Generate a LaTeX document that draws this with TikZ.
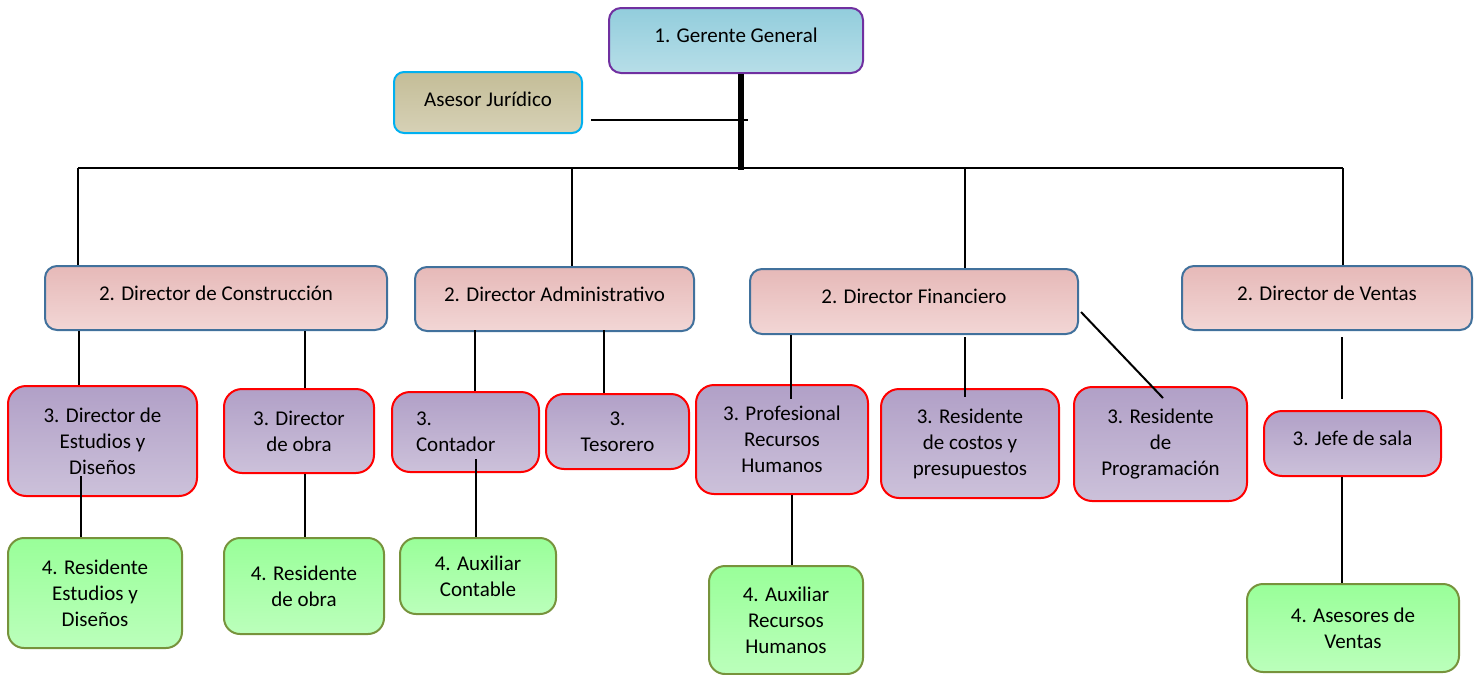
\documentclass[tikz,border=0pt]{standalone}
\usepackage{fontspec}
\setmainfont{Carlito}
\usetikzlibrary{calc}
\definecolor{gerTop}{HTML}{92CDDC}
\definecolor{gerBot}{HTML}{B7DEE8}
\definecolor{gerLine}{HTML}{7030A0}
\definecolor{aseTop}{HTML}{C4BD97}
\definecolor{aseBot}{HTML}{D6D1B6}
\definecolor{aseLine}{HTML}{00B0F0}
\definecolor{dirTop}{HTML}{E6B9B8}
\definecolor{dirBot}{HTML}{F2D6D5}
\definecolor{dirLine}{HTML}{41719C}
\definecolor{subTop}{HTML}{B1A0C7}
\definecolor{subBot}{HTML}{CCC1DA}
\definecolor{resTop}{HTML}{99FF99}
\definecolor{resBot}{HTML}{BBFFBB}
\definecolor{resLine}{HTML}{77933C}
\tikzstyle{every node}=[font=\fontsize{21}{26}\selectfont]
\tikzstyle{box}=[draw,line width=2,align=center,inner sep=4]
\tikzstyle{oneline}=[text height=14,text depth=10]
\tikzstyle{gerente}=[box,oneline,rounded corners=12,draw=gerLine,top color=gerTop,bottom color=gerBot]
\tikzstyle{asesor}=[box,rounded corners=10,draw=aseLine,top color=aseTop,bottom color=aseBot,text height=14,text depth=7]
\tikzstyle{director}=[box,oneline,rounded corners=12,draw=dirLine,top color=dirTop,bottom color=dirBot]
\tikzstyle{subdir}=[box,rounded corners=18,draw=red,top color=subTop,bottom color=subBot]
\tikzstyle{resid}=[box,rounded corners=16,draw=resLine,top color=resTop,bottom color=resBot]
\tikzstyle{link}=[line width=2]
\tikzstyle{trunk}=[line width=6]

\begin{document}
\begin{tikzpicture}[x=1pt,y=-1pt]
  \useasboundingbox (0,0) rectangle (1476,675);
  % level 1
  \node[gerente,minimum width=254,minimum height=65] (ger) at (736,40.5) {1. Gerente General};
  \node[asesor,minimum width=188,minimum height=61] (ase) at (488,102.5) {Asesor Jurídico};
  % level 2
  \node[director,minimum width=342,minimum height=64] (dcon) at (216,298) {2. Director de Construcción};
  \node[director,minimum width=279,minimum height=64] (dadm) at (554.5,299) {2. Director Administrativo};
  \node[director,minimum width=328,minimum height=65] (dfin) at (914,301.5) {2. Director Financiero};
  \node[director,minimum width=290,minimum height=64] (dven) at (1327,298) {2. Director de Ventas};
  % level 3
  \node[subdir,minimum width=189,minimum height=110] (est) at (102.5,441) {3. Director de\\Estudios y\\Diseños};
  \node[subdir,minimum width=150,minimum height=84] (obr) at (299,431) {3. Director\\de obra};
  \node[subdir,minimum width=147,minimum height=80,align=left,text width=99] (con) at (465.5,432) {3.\\Contador};
  \node[subdir,minimum width=143,minimum height=75] (tes) at (617.5,431.5) {3.\\Tesorero};
  \node[subdir,minimum width=172,minimum height=109] (prh) at (782,439.5) {3. Profesional\\Recursos\\Humanos};
  \node[subdir,minimum width=178,minimum height=109] (cos) at (970,443.5) {3. Residente\\de costos y\\presupuestos};
  \node[subdir,minimum width=173,minimum height=114] (prg) at (1160.5,444) {3. Residente\\de\\Programación};
  \node[subdir,oneline,minimum width=177,minimum height=65] (jef) at (1352.5,443.5) {3. Jefe de sala};
  % level 4
  \node[resid,minimum width=174,minimum height=110] (rest) at (95,593) {4. Residente\\Estudios y\\Diseños};
  \node[resid,minimum width=160,minimum height=96] (robr) at (304,586) {4. Residente\\de obra};
  \node[resid,minimum width=156,minimum height=76] (acon) at (478,576) {4. Auxiliar\\Contable};
  \node[resid,minimum width=154,minimum height=108] (arh) at (786,620) {4. Auxiliar\\Recursos\\Humanos};
  \node[resid,minimum width=212,minimum height=88] (asv) at (1353,628) {4. Asesores de\\Ventas};
  % bus
  \coordinate (bus) at (741,170);
  \draw[link] (78,168) -- (1343,168);
  \foreach \n/\x in {dcon/78,dadm/572,dfin/965,dven/1343}
    \draw[link] (\x,168) coordinate (top) -- (top |- \n.north);
  \draw[trunk] (ger.south -| bus) -- (bus);
  \draw[link] ($(ase.east)+(8,17.5)$) -- ($(bus |- ase.east)+(7,17.5)$);
  % level 2 to level 3
  \draw[link] ($(dcon.south west)+(35,0)$) coordinate (a) -- (a |- est.north);
  \draw[link] ($(dcon.south west)+(261,0)$) coordinate (a) -- (a |- obr.north);
  \draw[link] ($(dadm.south west)+(61,-2)$) coordinate (a) -- (a |- con.north);
  \draw[link] ($(dadm.south west)+(190,-2)$) coordinate (a) -- (a |- tes.north);
  \draw[link] ($(dfin.south west)+(42,0)$) coordinate (a) -- ($(a |- prh.north)+(0,15)$);
  \draw[link] ($(dfin.south west)+(216,2)$) coordinate (a) -- ($(a |- cos.north)+(0,9)$);
  \draw[link] ($(dfin.east)+(2,10.5)$) -- ($(prg.north)+(2.5,12)$);
  \draw[link] ($(dven.south)+(15,6)$) -- ($(jef.north)+(-10.5,-11)$);
  % level 3 to level 4
  \draw[link] ($(est.south)+(-21.5,-21)$) coordinate (a) -- (a |- rest.north);
  \draw[link] ($(obr.south)+(6,0)$) coordinate (a) -- (a |- robr.north);
  \draw[link] ($(con.south)+(10.5,-14)$) coordinate (a) -- (a |- acon.north);
  \draw[link] ($(prh.south)+(10,0)$) coordinate (a) -- (a |- arh.north);
  \draw[link] ($(jef.south)+(-10.5,0)$) coordinate (a) -- (a |- asv.north);
\end{tikzpicture}
\end{document}
